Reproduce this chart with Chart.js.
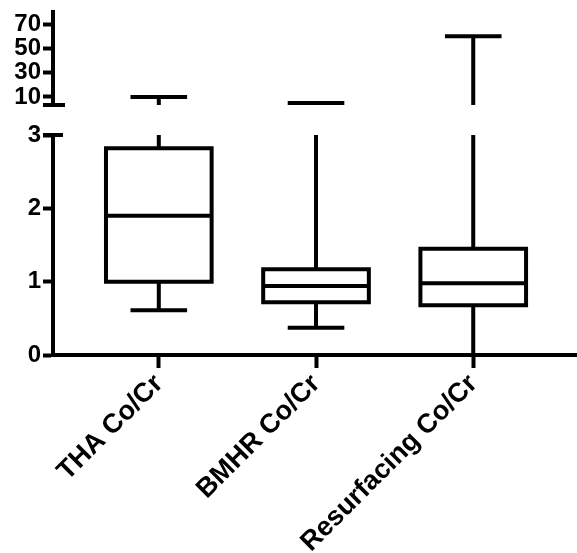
<!DOCTYPE html>
<html>
<head>
<meta charset="utf-8">
<script src="https://cdn.jsdelivr.net/npm/chart.js@4.4.1/dist/chart.umd.min.js"></script>
<style>
  html, body { margin: 0; padding: 0; background: #fff; }
  #wrap { position: relative; width: 577px; height: 553px; }
  #wrap canvas { position: absolute; left: 0; top: 0; }
</style>
</head>
<body>
<div id="wrap">
  <canvas id="lower" width="577" height="553"></canvas>
  <canvas id="upper" width="577" height="125"></canvas>
</div>
<script>
const groups = ['THA Co/Cr', 'BMHR Co/Cr', 'Resurfacing Co/Cr'];
const minVals = [0.61, 0.37, 0];
const q1Vals = [1.0, 0.72, 0.68];
const medianVals = [1.9, 0.94, 0.98];
const q3Vals = [2.82, 1.17, 1.45];
const maxVals = [10, 5, 60];
const lowerTicks = [0, 1, 2, 3];
const upperTicks = [10, 30, 50, 70];

const boxHalf = 0.336;
const capHalf = 0.18;
const ink = '#000';
const yFont = { family: 'Liberation Sans, Arial, sans-serif', size: 24, weight: 'bold' };
const xFont = { family: 'Liberation Sans, Arial, sans-serif', size: 27, weight: 'bold' };

// box outline + median, gaps separated by null points
function boxPoints() {
  let pts = [];
  for (let i = 0; i < groups.length; i++) {
    pts.push({x: i - boxHalf, y: q1Vals[i]}, {x: i - boxHalf, y: q3Vals[i]},
             {x: i + boxHalf, y: q3Vals[i]}, {x: i + boxHalf, y: q1Vals[i]},
             {x: i - boxHalf, y: q1Vals[i]}, {x: i, y: null});
    pts.push({x: i - boxHalf, y: medianVals[i]}, {x: i + boxHalf, y: medianVals[i]}, {x: i, y: null});
  }
  return pts;
}

function whiskerPoints() {
  let pts = [];
  for (let i = 0; i < groups.length; i++) {
    pts.push({x: i, y: q3Vals[i]}, {x: i, y: maxVals[i]}, {x: i, y: null});
    pts.push({x: i - capHalf, y: maxVals[i]}, {x: i + capHalf, y: maxVals[i]}, {x: i, y: null});
    pts.push({x: i, y: q1Vals[i]}, {x: i, y: minVals[i]}, {x: i, y: null});
    pts.push({x: i - capHalf, y: minVals[i]}, {x: i + capHalf, y: minVals[i]}, {x: i, y: null});
  }
  return pts;
}

// little axis-break marks
const breakMarks = {
  id: 'breakMarks',
  afterDraw(chart, args, opts) {
    const ctx = chart.ctx;
    const x0 = chart.chartArea.left;
    const py = chart.scales.y.getPixelForValue(opts.at);
    ctx.save();
    ctx.strokeStyle = ink;
    ctx.lineWidth = 4;
    ctx.beginPath();
    ctx.moveTo(x0 - 10, py);
    ctx.lineTo(x0 + opts.right, py);
    ctx.stroke();
    ctx.restore();
  }
};

function makeChart(id, yMin, yMax, yTicks, showX, padding, mark) {
  const ctx = document.getElementById(id).getContext('2d');
  return new Chart(ctx, {
    type: 'line',
    data: {
      datasets: [{
        data: boxPoints(),
        hidden: !showX, // boxes never reach the upper segment
        borderColor: ink,
        borderWidth: 4,
        borderCapStyle: 'square',
        borderJoinStyle: 'miter',
        pointRadius: 0,
        spanGaps: false,
        clip: 0
      }, {
        data: whiskerPoints(),
        borderColor: ink,
        borderWidth: 4,
        borderCapStyle: 'butt',
        pointRadius: 0,
        spanGaps: false,
        clip: 0
      }]
    },
    options: {
      responsive: false,
      animation: false,
      layout: { padding: padding },
      plugins: {
        legend: false,
        tooltip: { enabled: false },
        breakMarks: mark
      },
      scales: {
        x: {
          type: 'linear',
          display: showX,
          min: -0.673,
          max: 2.66,
          afterBuildTicks(scale) {
            scale.ticks = groups.map((g, i) => ({ value: i }));
          },
          afterFit(scale) {
            if (showX) scale.height = 198;
            scale.paddingLeft = 0;
            scale.paddingRight = 0;
          },
          border: { display: true, color: ink, width: 4 },
          grid: { drawOnChartArea: false, tickLength: 13, tickWidth: 4, tickColor: ink },
          ticks: {
            color: ink,
            font: xFont,
            minRotation: 45,
            maxRotation: 45,
            padding: 0,
            callback: (v) => groups[v]
          }
        },
        y: {
          min: yMin,
          max: yMax,
          afterBuildTicks(scale) {
            scale.ticks = yTicks.map(v => ({ value: v }));
          },
          afterFit(scale) {
            scale.width = 53;
            scale.paddingTop = 0;
            scale.paddingBottom = 0;
          },
          border: { display: true, color: ink, width: 4 },
          grid: { drawOnChartArea: false, tickLength: 10, tickWidth: 4, tickColor: ink },
          ticks: { color: ink, font: yFont, padding: 2, autoSkip: false }
        }
      }
    },
    plugins: [breakMarks]
  });
}

makeChart('lower', 0, 3, lowerTicks, true, { top: 135, right: 0, bottom: 0, left: 0 }, { at: 3, right: 10 });
makeChart('upper', 3.4, 80, upperTicks, false, { top: 12, right: 0, bottom: 20, left: 0 }, { at: 3.4, right: 12 });
</script>
</body>
</html>
